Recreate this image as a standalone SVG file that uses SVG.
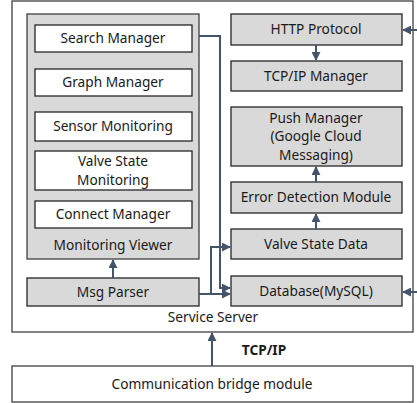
<svg xmlns="http://www.w3.org/2000/svg" width="417" height="403" viewBox="0 0 417 403">
<defs>
<style>
.outer{fill:#ffffff;stroke:#404040;stroke-width:1.3}
.grp{fill:#d9d9d9;stroke:#404040;stroke-width:1.3}
.box{fill:#d9d9d9;stroke:#262626;stroke-width:1.3}
.wbox{fill:#ffffff;stroke:#262626;stroke-width:1.3}
text{font-family:"Noto Sans","Open Sans","DejaVu Sans",sans-serif;font-size:13.7px;fill:#1a1a1a;text-anchor:middle}
.b{font-weight:bold}
.c{fill:none;stroke:#44546a;stroke-width:2}
</style>
<marker id="ah" viewBox="0 0 10 10" refX="9" refY="5" markerWidth="4.5" markerHeight="4.5" orient="auto" markerUnits="strokeWidth">
<path d="M0,0 L10,5 L0,10 z" fill="#44546a"/>
</marker>
</defs>
<rect width="417" height="403" fill="#ffffff"/>
<g id="service-server">
<rect class="outer" x="12" y="1" width="401" height="331"/>
<text x="213" y="322">Service Server</text>
</g>
<g id="monitoring-viewer">
<rect class="grp" x="27" y="14" width="172" height="245"/>
<text x="113" y="250">Monitoring Viewer</text>
</g>
<g id="search-manager">
<rect class="wbox" x="35" y="25" width="157" height="27"/>
<text x="113" y="43">Search Manager</text>
</g>
<g id="graph-manager">
<rect class="wbox" x="35" y="69" width="157" height="27"/>
<text x="113" y="87">Graph Manager</text>
</g>
<g id="sensor-monitoring">
<rect class="wbox" x="35" y="112" width="157" height="29"/>
<text x="113" y="131">Sensor Monitoring</text>
</g>
<g id="valve-state-monitoring">
<rect class="wbox" x="35" y="151" width="157" height="39"/>
<text x="113" y="166">Valve State<tspan x="113" dy="18.8">Monitoring</tspan></text>
</g>
<g id="connect-manager">
<rect class="wbox" x="35" y="201" width="157" height="27"/>
<text x="113" y="219">Connect Manager</text>
</g>
<g id="msg-parser">
<rect class="box" x="27" y="278" width="172" height="28"/>
<text x="113" y="297">Msg Parser</text>
</g>
<g id="http-protocol">
<rect class="box" x="231" y="14" width="171" height="31"/>
<text x="316" y="34">HTTP Protocol</text>
</g>
<g id="tcpip-manager">
<rect class="box" x="231" y="61" width="171" height="30"/>
<text x="316" y="81">TCP/IP Manager</text>
</g>
<g id="push-manager">
<rect class="box" x="231" y="107" width="171" height="59"/>
<text x="316" y="122.5">Push Manager<tspan x="316" dy="18.8">(Google Cloud</tspan><tspan x="316" dy="18.8">Messaging)</tspan></text>
</g>
<g id="error-detection">
<rect class="box" x="231" y="182" width="171" height="31"/>
<text x="316" y="202">Error Detection Module</text>
</g>
<g id="valve-state-data">
<rect class="box" x="231" y="229" width="171" height="30"/>
<text x="316" y="249">Valve State Data</text>
</g>
<g id="database">
<rect class="box" x="231" y="276" width="171" height="30"/>
<text x="316" y="296">Database(MySQL)</text>
</g>
<g id="communication-bridge">
<rect class="outer" x="12" y="366" width="401" height="36"/>
<text x="212" y="389">Communication bridge module</text>
</g>
<g id="connectors">
<path class="c" d="M417,30 H403" marker-end="url(#ah)"/>
<path class="c" d="M417,292 H403" marker-end="url(#ah)"/>
<path class="c" d="M316,45 V60" marker-end="url(#ah)"/>
<path class="c" d="M316,182 V167" marker-end="url(#ah)"/>
<path class="c" d="M316,229 V214" marker-end="url(#ah)"/>
<path class="c" d="M199,36 H220 V288 H230" marker-end="url(#ah)"/>
<path class="c" d="M199,294 H230" marker-end="url(#ah)"/>
<path class="c" d="M211,294 V247 H230" marker-end="url(#ah)"/>
<path class="c" d="M113,278 V260" marker-end="url(#ah)"/>
<path class="c" d="M212,366 V333" marker-end="url(#ah)"/>
<text class="b" x="264" y="355">TCP/IP</text>
</g>
</svg>
